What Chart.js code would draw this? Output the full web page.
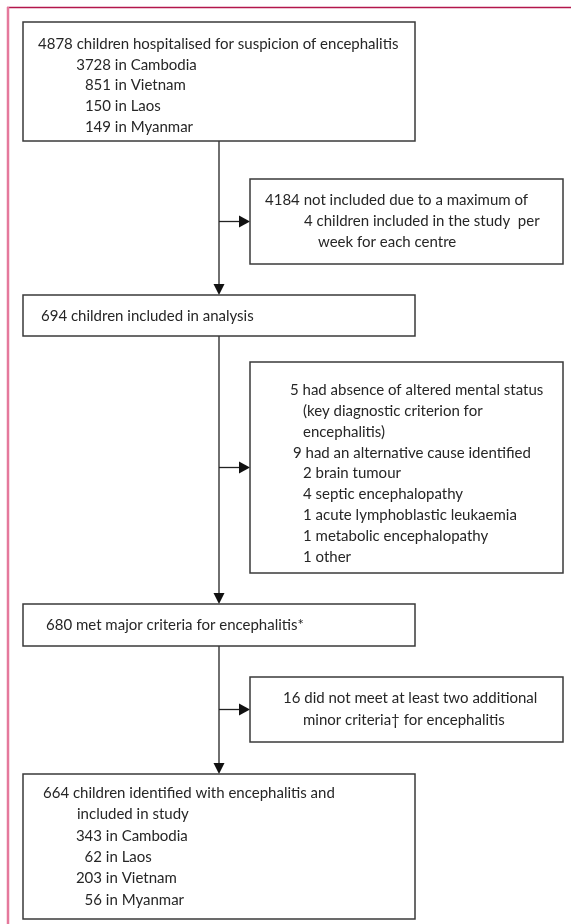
<!DOCTYPE html>
<html>
<head>
<meta charset="utf-8">
<script src="https://cdn.jsdelivr.net/npm/chart.js@4.4.0/dist/chart.umd.min.js"></script>
<style>
  html, body { margin: 0; padding: 0; background: #fff; }
  #wrap { width: 571px; height: 924px; }
</style>
</head>
<body>
<div id="wrap"><canvas id="flow" width="571" height="924"></canvas></div>
<script>
// Flow counts
const screenedTotal = 4878;
const screenedCountries = ["Cambodia", "Vietnam", "Laos", "Myanmar"];
const screenedCounts = [3728, 851, 150, 149];
const capExcluded = 4184;
const analysedTotal = 694;
const noAlteredStatus = 5;
const altCauseTotal = 9;
const altCauses = ["brain tumour", "septic encephalopathy", "acute lymphoblastic leukaemia", "metabolic encephalopathy", "other"];
const altCauseCounts = [2, 4, 1, 1, 1];
const majorCriteriaTotal = 680;
const minorExcluded = 16;
const finalTotal = 664;
const finalCountries = ["Cambodia", "Laos", "Vietnam", "Myanmar"];
const finalCounts = [343, 62, 203, 56];

// Texte des boîtes, construit à partir des tableaux ci-dessus
// each line: [text, indentKey] or ["num", number, rest, indentKey] for right-aligned numbers
const boxTexts = [
  [
    [screenedTotal + " children hospitalised for suspicion of encephalitis", "a"],
    ...screenedCountries.map((c, i) => ["num", screenedCounts[i], " in " + c, "n"]),
  ],
  [
    [capExcluded + " not included due to a maximum of", "a"],
    ["4 children included in the study  per", "b"],
    ["week for each centre", "c"],
  ],
  [[analysedTotal + " children included in analysis", "a"]],
  [
    [noAlteredStatus + " had absence of altered mental status", "a"],
    ["(key diagnostic criterion for", "b"],
    ["encephalitis)", "b"],
    [altCauseTotal + " had an alternative cause identified", "c"],
    ...altCauses.map((c, i) => [altCauseCounts[i] + " " + c, "b"]),
  ],
  [[majorCriteriaTotal + " met major criteria for encephalitis*", "a"]],
  [
    [minorExcluded + " did not meet at least two additional", "a"],
    ["minor criteria\u2020 for encephalitis", "b"],
  ],
  [
    [finalTotal + " children identified with encephalitis and", "a"],
    ["included in study", "b"],
    ...finalCountries.map((c, i) => ["num", finalCounts[i], " in " + c, "n"]),
  ],
];

// Mise en page (coordonnées de l'axe, pas de données)
const layout = [
  { x0: 23, y0: 22, x1: 415, y1: 141, top: 44, lh: 20.8, ind: { a: 38, n: 111 } },
  { x0: 250, y0: 179, x1: 563, y1: 264, top: 200, lh: 21, ind: { a: 265, b: 304, c: 318 } },
  { x0: 23, y0: 295, x1: 415, y1: 336, top: 316, lh: 21, ind: { a: 41 } },
  { x0: 250, y0: 362, x1: 563, y1: 573, top: 390, lh: 20.9, ind: { a: 290, b: 303, c: 293 } },
  { x0: 23, y0: 604, x1: 415, y1: 646, top: 625, lh: 21, ind: { a: 46 } },
  { x0: 250, y0: 677, x1: 563, y1: 742, top: 698, lh: 22, ind: { a: 283, b: 303 } },
  { x0: 23, y0: 774, x1: 415, y1: 919, top: 793, lh: 21.4, ind: { a: 43, b: 77, n: 102 } },
];
const spineX = 219;
const mainBoxes = [0, 2, 4, 6];
const sideBoxes = [1, 3, 5];

const flowPlugin = {
  id: "flow",
  afterDraw(chart) {
    const { ctx, scales } = chart;
    const px = (v) => scales.x.getPixelForValue(v);
    const py = (v) => scales.y.getPixelForValue(v);
    ctx.save();

    // cadre de la page
    ctx.strokeStyle = "#b3164b";
    ctx.lineWidth = 1.5;
    ctx.beginPath();
    ctx.moveTo(px(7), py(7.5));
    ctx.lineTo(px(571), py(7.5));
    ctx.stroke();
    ctx.strokeStyle = "#e5799c";
    ctx.lineWidth = 2.5;
    ctx.beginPath();
    ctx.moveTo(px(8), py(7));
    ctx.lineTo(px(8), py(924));
    ctx.stroke();

    const arrowDown = (x, y) => {
      ctx.beginPath();
      ctx.moveTo(px(x) - 5.5, py(y) - 11);
      ctx.lineTo(px(x) + 5.5, py(y) - 11);
      ctx.lineTo(px(x), py(y));
      ctx.closePath();
      ctx.fill();
    };
    const arrowRight = (x, y) => {
      ctx.beginPath();
      ctx.moveTo(px(x) - 11, py(y) - 6);
      ctx.lineTo(px(x) - 11, py(y) + 6);
      ctx.lineTo(px(x), py(y));
      ctx.closePath();
      ctx.fill();
    };

    // connecteurs
    ctx.strokeStyle = "#222";
    ctx.fillStyle = "#111";
    ctx.lineWidth = 1.3;
    for (let i = 0; i < mainBoxes.length - 1; i++) {
      const a = layout[mainBoxes[i]];
      const b = layout[mainBoxes[i + 1]];
      ctx.beginPath();
      ctx.moveTo(px(spineX), py(a.y1));
      ctx.lineTo(px(spineX), py(b.y0) - 10);
      ctx.stroke();
      arrowDown(spineX, b.y0);
    }
    sideBoxes.forEach((k) => {
      const b = layout[k];
      const ym = (b.y0 + b.y1) / 2;
      ctx.beginPath();
      ctx.moveTo(px(spineX), py(ym));
      ctx.lineTo(px(b.x0) - 10, py(ym));
      ctx.stroke();
      arrowRight(b.x0, ym);
    });

    // boîtes et texte
    ctx.font = "15px Lato";
    ctx.textBaseline = "middle";
    layout.forEach((b, k) => {
      ctx.strokeStyle = "#3a3a3a";
      ctx.lineWidth = 1.5;
      ctx.fillStyle = "#fff";
      ctx.fillRect(px(b.x0), py(b.y0), px(b.x1) - px(b.x0), py(b.y1) - py(b.y0));
      ctx.strokeRect(px(b.x0), py(b.y0), px(b.x1) - px(b.x0), py(b.y1) - py(b.y0));
      ctx.fillStyle = "#262626";
      boxTexts[k].forEach((ln, i) => {
        const y = py(b.top + i * b.lh);
        if (ln[0] === "num") {
          const col = px(b.ind[ln[3]]);
          ctx.textAlign = "right";
          ctx.fillText(String(ln[1]), col, y);
          ctx.textAlign = "left";
          ctx.fillText(ln[2], col, y);
        } else {
          ctx.textAlign = "left";
          ctx.fillText(ln[0], px(b.ind[ln[1]]), y);
        }
      });
    });
    ctx.restore();
  },
};

new Chart(document.getElementById("flow"), {
  type: "scatter",
  data: { datasets: [] },
  options: {
    responsive: false,
    animation: false,
    layout: { padding: 0 },
    plugins: { legend: { display: false }, tooltip: { enabled: false } },
    scales: {
      x: { type: "linear", min: 0, max: 571, display: false },
      y: { type: "linear", min: 0, max: 924, reverse: true, display: false },
    },
  },
  plugins: [flowPlugin],
});
</script>
</body>
</html>
